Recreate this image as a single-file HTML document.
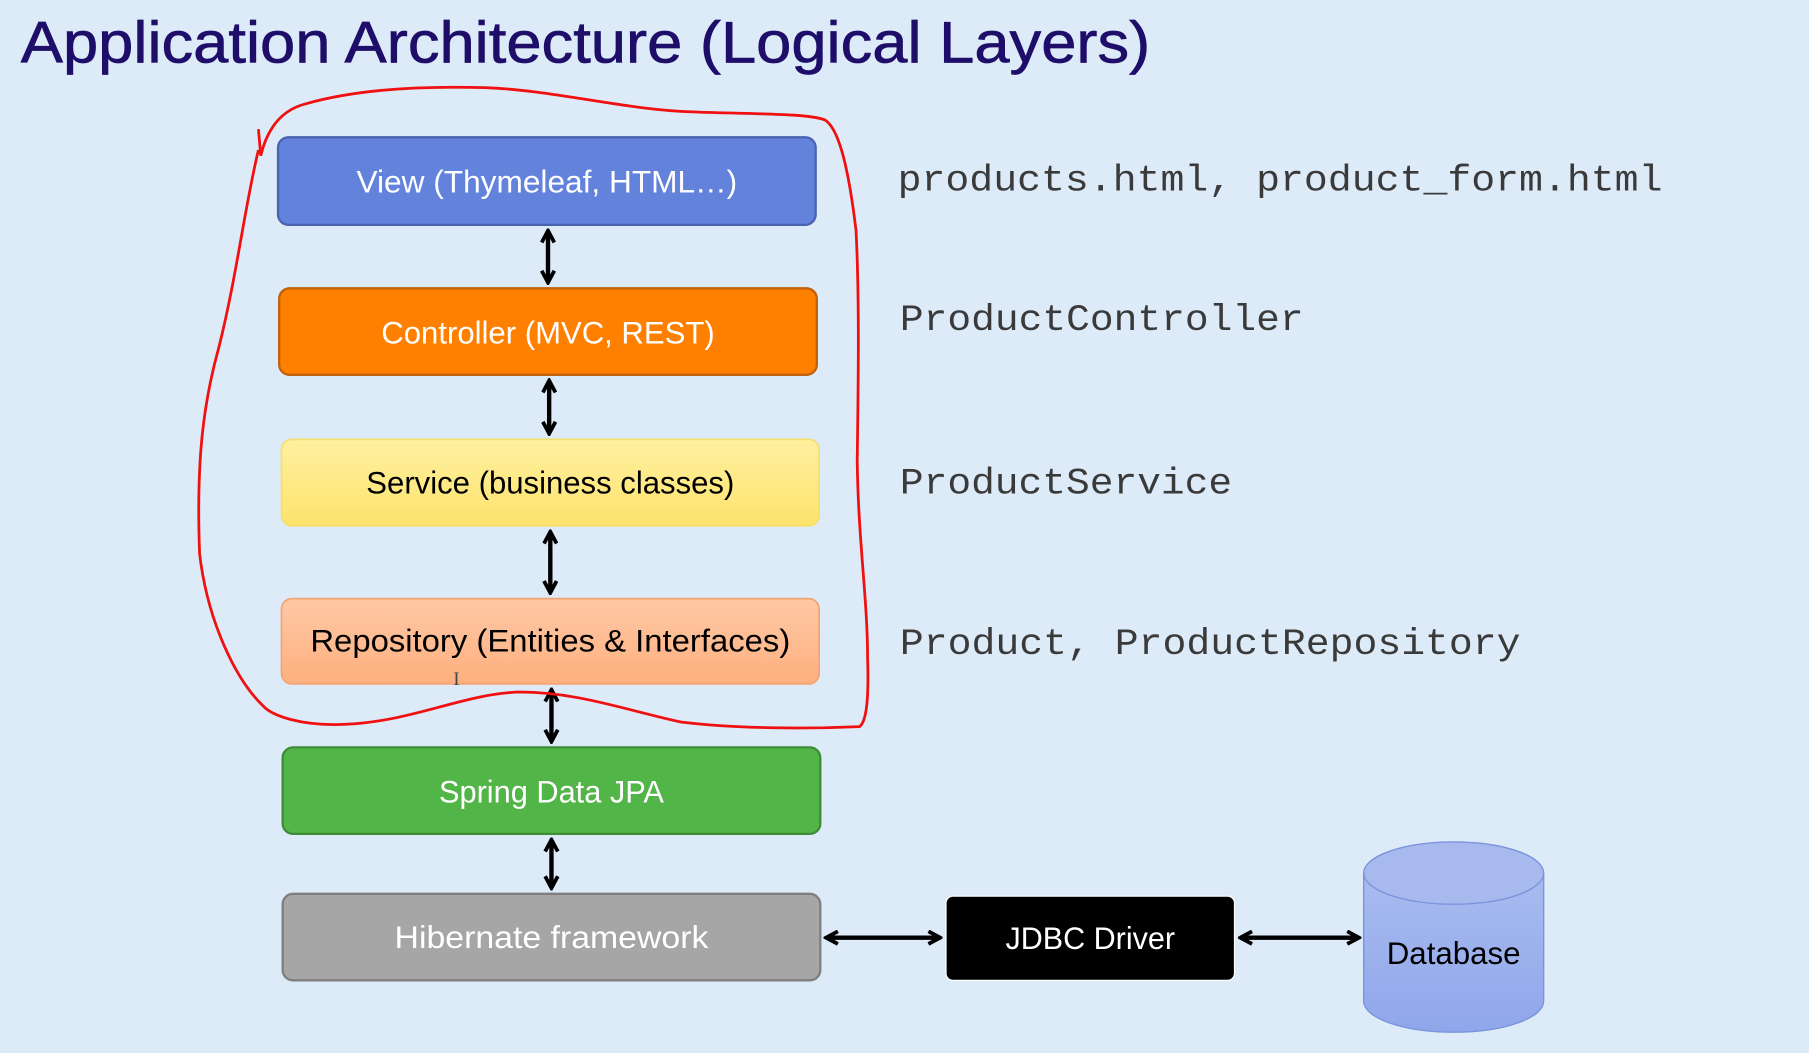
<!DOCTYPE html>
<html><head><meta charset="utf-8"><style>
html,body{margin:0;padding:0;background:#ddebf9;}
svg{display:block;}
</style></head><body>
<svg width="1809" height="1053" viewBox="0 0 1568 913" preserveAspectRatio="none" xmlns="http://www.w3.org/2000/svg">
<defs>
<linearGradient id="gs" x1="0" y1="0" x2="0" y2="1"><stop offset="0" stop-color="#fff0a0"/><stop offset="1" stop-color="#fde36c"/></linearGradient>
<linearGradient id="gr" x1="0" y1="0" x2="0" y2="1"><stop offset="0" stop-color="#ffc8a6"/><stop offset="1" stop-color="#fdb07e"/></linearGradient>
<linearGradient id="gd" x1="0" y1="0" x2="0" y2="1"><stop offset="0" stop-color="#a9bcf0"/><stop offset="1" stop-color="#8fa6ea"/></linearGradient>
<marker id="ah" viewBox="0 0 10 10" refX="8.5" refY="5" markerWidth="3.6" markerHeight="3.6" orient="auto-start-reverse"><path d="M1,1 L8.5,5 L1,9" fill="none" stroke="#000" stroke-width="2.4"/></marker>
</defs>
<rect width="1568" height="913" fill="#ddebf9"/>
<text x="18" y="54" font-family="Liberation Sans, sans-serif" font-size="51" fill="#1e0e6a" stroke="#1e0e6a" stroke-width="0.6" textLength="979" lengthAdjust="spacingAndGlyphs">Application Architecture (Logical Layers)</text>

<g font-family="Liberation Sans, sans-serif" font-size="27" text-anchor="middle" lengthAdjust="spacingAndGlyphs">
<rect x="241" y="119" width="466" height="76" rx="9" fill="#6282dc" stroke="#4a63b0" stroke-width="2"/>
<text x="474" y="167" fill="#fff" textLength="330" lengthAdjust="spacingAndGlyphs">View (Thymeleaf, HTML…)</text>
<rect x="242" y="250" width="466" height="75" rx="9" fill="#ff8000" stroke="#c0600c" stroke-width="2"/>
<text x="475" y="298" fill="#fff" textLength="289" lengthAdjust="spacingAndGlyphs">Controller (MVC, REST)</text>
<rect x="244" y="381" width="466" height="75" rx="9" fill="url(#gs)" stroke="#f3e070" stroke-width="1.5"/>
<text x="477" y="428" fill="#000" textLength="319" lengthAdjust="spacingAndGlyphs">Service (business classes)</text>
<rect x="244" y="519" width="466" height="74" rx="9" fill="url(#gr)" stroke="#f4a474" stroke-width="1.5"/>
<text x="477" y="565" fill="#000" textLength="416" lengthAdjust="spacingAndGlyphs">Repository (Entities &amp; Interfaces)</text>
<rect x="245" y="648" width="466" height="75" rx="9" fill="#52b548" stroke="#3e8d36" stroke-width="2"/>
<text x="478" y="696" fill="#fff" textLength="195" lengthAdjust="spacingAndGlyphs">Spring Data JPA</text>
<rect x="245" y="775" width="466" height="75" rx="9" fill="#a6a6a6" stroke="#7f7f7f" stroke-width="2"/>
<text x="478" y="822" fill="#fff" textLength="272" lengthAdjust="spacingAndGlyphs">Hibernate framework</text>
<rect x="820" y="777" width="250" height="73" rx="6" fill="#000" stroke="#fff" stroke-width="1"/>
<text x="945" y="823" fill="#fff" textLength="147" lengthAdjust="spacingAndGlyphs">JDBC Driver</text>
<path d="M1182,757 L1182,868 A78,27 0 0 0 1338,868 L1338,757" fill="url(#gd)" stroke="#7a93dc" stroke-width="1.2"/>
<ellipse cx="1260" cy="757" rx="78" ry="27" fill="#a8b9ee" stroke="#7a93dc" stroke-width="1.2"/>
<text x="1260" y="836" fill="#000" textLength="116" lengthAdjust="spacingAndGlyphs">Database</text>
</g>

<g stroke="#000" stroke-width="3.8" fill="none" marker-start="url(#ah)" marker-end="url(#ah)">
<line x1="475" y1="200" x2="475" y2="245"/>
<line x1="476" y1="330" x2="476" y2="376"/>
<line x1="477" y1="461" x2="477" y2="514"/>
<line x1="478" y1="598" x2="478" y2="643"/>
<line x1="478" y1="728" x2="478" y2="770"/>
<line x1="716" y1="813" x2="815" y2="813"/>
<line x1="1075" y1="813" x2="1178" y2="813"/>
</g>

<g font-family="Liberation Mono, monospace" font-size="32" fill="#3a3a3a">
<text x="778" y="165" textLength="663" lengthAdjust="spacingAndGlyphs">products.html, product_form.html</text>
<text x="780" y="286" textLength="350" lengthAdjust="spacingAndGlyphs">ProductController</text>
<text x="780" y="428" textLength="288" lengthAdjust="spacingAndGlyphs">ProductService</text>
<text x="780" y="567" textLength="538" lengthAdjust="spacingAndGlyphs">Product, ProductRepository</text>
</g>

<path d="M224,112 L226,135 C232,110 245,95 265,90 C300,80 350,74 420,76 C480,78 540,95 600,97 C650,99 700,98 715,104 C728,112 736,150 742,200 C745,260 744,330 743,400 C744,470 752,520 752,570 C753,600 752,625 745,630 C700,632 640,632 590,626 C540,615 500,600 450,600 C400,602 360,625 300,628 C260,630 235,620 228,612 C205,590 180,540 173,480 C170,400 176,350 190,300 C205,240 212,180 224,130" fill="none" stroke="#f01010" stroke-width="2.4"/>
<text x="393" y="594" font-family="Liberation Serif, serif" font-size="16" fill="#444">I</text>
</svg>
</body></html>
